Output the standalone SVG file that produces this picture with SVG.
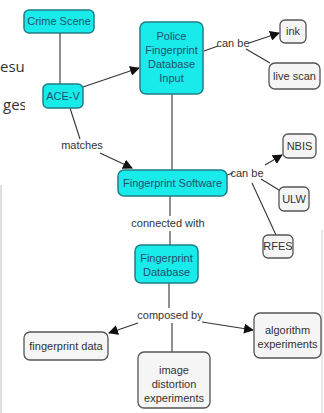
<svg xmlns="http://www.w3.org/2000/svg" width="324" height="413" viewBox="0 0 324 413">
<style>
text{font-family:"Liberation Sans",Arial,sans-serif;font-size:11px;text-anchor:middle}
.c rect{fill:#19eaea;stroke:#1f7f86;stroke-width:1.5}
.c text{fill:#24506e}
.g rect{fill:#f5f5f5;stroke:#555;stroke-width:1.3}
.g text{fill:#333}
.lbl{fill:#333}
.bg{font-family:"Open Sans",sans-serif;font-size:15px;fill:#333;text-anchor:start}
#connectors line{stroke:#333;stroke-width:1.1}
.ar{marker-end:url(#ah)}
</style>
<defs>
<marker id="ah" viewBox="0 0 10 10" refX="9" refY="5" markerWidth="10" markerHeight="10" markerUnits="userSpaceOnUse" orient="auto">
<path d="M0,0 L10,5 L0,10 Z" fill="#111"/>
</marker>
</defs>
<rect width="324" height="413" fill="#fff"/>
<text class="bg" x="0" y="72">esu</text>
<text class="bg" x="3" y="110">ges</text>
<rect x="25" y="0" width="299" height="413" fill="#fff"/>
<line x1="1" y1="185" x2="1" y2="413" stroke="#d4d4d4" stroke-width="1.5"/>
<line x1="322" y1="230" x2="322" y2="413" stroke="#e0e0e0" stroke-width="1.5"/>

<g id="connectors">
<line x1="60" y1="33" x2="60" y2="84"/>
<line class="ar" x1="83" y1="87" x2="139" y2="68"/>
<line x1="204" y1="51" x2="218" y2="46"/>
<line class="ar" x1="249" y1="43" x2="279" y2="33"/>
<line x1="246" y1="49" x2="270" y2="63"/>
<line x1="172" y1="94" x2="172" y2="170"/>
<line x1="70" y1="108" x2="80" y2="139"/>
<line class="ar" x1="100" y1="153" x2="132" y2="168"/>
<line x1="227" y1="175" x2="233" y2="173"/>
<line class="ar" x1="265" y1="165" x2="282" y2="155"/>
<line x1="261" y1="179" x2="279" y2="190"/>
<line x1="252" y1="183" x2="276" y2="235"/>
<line x1="170" y1="196" x2="170" y2="216"/>
<line x1="170" y1="231" x2="170" y2="245"/>
<line x1="169" y1="283" x2="169" y2="308"/>
<line x1="172" y1="323" x2="172" y2="352"/>
<line class="ar" x1="202" y1="322" x2="253" y2="330"/>
<line class="ar" x1="138" y1="323" x2="109" y2="333"/>
</g>

<g id="lbl-canbe1"><text class="lbl" x="233" y="47">can be</text></g>
<g id="lbl-matches"><text class="lbl" x="82" y="149">matches</text></g>
<g id="lbl-canbe2"><text class="lbl" x="247" y="177">can be</text></g>
<g id="lbl-connected"><text class="lbl" x="168" y="227">connected with</text></g>
<g id="lbl-composed"><text class="lbl" x="170" y="319">composed by</text></g>

<g id="crime-scene" class="c"><rect x="24" y="10" width="70" height="23" rx="5"/><text x="59" y="25">Crime Scene</text></g>
<g id="ace-v" class="c"><rect x="43" y="84" width="40" height="24" rx="5"/><text x="63" y="100">ACE-V</text></g>
<g id="police" class="c"><rect x="140" y="22" width="63" height="72" rx="6"/>
<text x="171.5" y="40">Police</text><text x="171.5" y="54">Fingerprint</text><text x="171.5" y="68">Database</text><text x="171.5" y="82">Input</text></g>
<g id="fp-software" class="c"><rect x="118" y="170" width="109" height="26" rx="6"/><text x="172.5" y="187">Fingerprint Software</text></g>
<g id="fp-database" class="c"><rect x="135" y="245" width="63" height="38" rx="6"/><text x="166.5" y="262">Fingerprint</text><text x="166.5" y="276">Database</text></g>

<g id="ink" class="g"><rect x="280" y="20" width="26" height="23" rx="5"/><text x="293" y="35">ink</text></g>
<g id="live-scan" class="g"><rect x="269" y="63" width="51" height="26" rx="6"/><text x="294.5" y="80">live scan</text></g>
<g id="nbis" class="g"><rect x="283" y="134" width="33" height="24" rx="5"/><text x="299.5" y="150">NBIS</text></g>
<g id="ulw" class="g"><rect x="279" y="187" width="30" height="24" rx="5"/><text x="294" y="203">ULW</text></g>
<g id="rfes" class="g"><rect x="263" y="235" width="30" height="23" rx="5"/><text x="278" y="250">RFES</text></g>
<g id="fp-data" class="g"><rect x="24" y="332" width="84" height="28" rx="6"/><text x="66" y="350">fingerprint data</text></g>
<g id="algorithm" class="g"><rect x="254" y="313" width="67" height="45" rx="6"/><text x="287.5" y="334">algorithm</text><text x="287.5" y="348">experiments</text></g>
<g id="image-distortion" class="g"><rect x="138" y="352" width="72" height="56" rx="6"/><text x="174" y="374">image</text><text x="174" y="388">distortion</text><text x="174" y="402">experiments</text></g>
</svg>
